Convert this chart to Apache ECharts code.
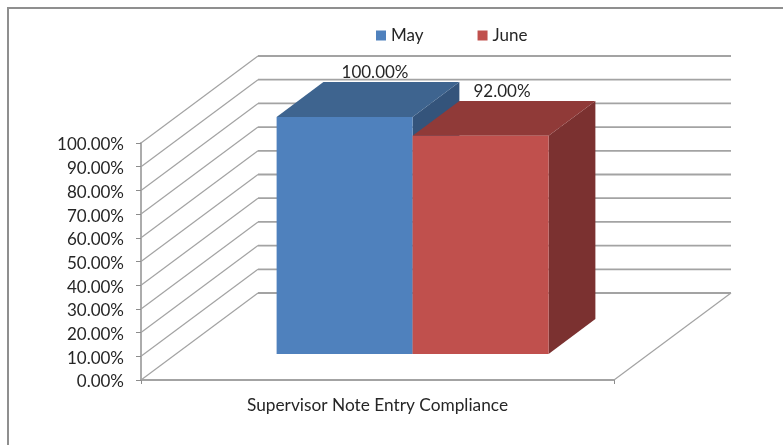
<!DOCTYPE html>
<html>
<head>
<meta charset="utf-8">
<style>html,body{margin:0;padding:0;background:#fff}#main{width:783px;height:445px}</style>
<script src="https://cdn.jsdelivr.net/npm/echarts@6/dist/echarts.min.js"></script>
</head>
<body>
<div id="main"></div>
<script>
var categories = ['Supervisor Note Entry Compliance'];
var seriesNames = ['May', 'June'];
var mayValues = [1.0];
var juneValues = [0.92];
var tickValues = [0, 0.1, 0.2, 0.3, 0.4, 0.5, 0.6, 0.7, 0.8, 0.9, 1.0];

// depth of the fake 3d box, in pixels
var depthX = 117;
var depthY = -87;
var barStart = 0.3;   // bars sit between these two fractions of the depth
var barEnd = 0.7;
var barShare = 0.2875; // width of one bar as a share of the category band

var myChart = echarts.init(document.getElementById('main'));
var font = 'Lato';
var axisColor = '#a3a3a3';

function pct(v) {
    return (v * 100).toFixed(2) + '%';
}

// back wall lines and the floor edge on the right
function renderWall(params, api) {
    var v = api.value(1);
    var p = api.coord([0, v]);
    var band = api.size([1, 0])[0];
    var x0 = p[0] - band / 2;
    var children = [{
        type: 'line',
        shape: { x1: x0, y1: p[1], x2: x0 + depthX, y2: p[1] + depthY },
        style: { stroke: axisColor, lineWidth: 1.2 }
    }, {
        type: 'line',
        shape: { x1: x0 + depthX, y1: p[1] + depthY, x2: x0 + depthX + band, y2: p[1] + depthY },
        style: { stroke: axisColor, lineWidth: 1.8 }
    }];
    if (v === 0) {
        children.push({
            type: 'line',
            shape: { x1: x0 + band, y1: p[1], x2: x0 + band + depthX, y2: p[1] + depthY },
            style: { stroke: axisColor, lineWidth: 1.2 }
        });
    }
    return { type: 'group', children: children };
}

function makeBar(index, front, top, side, labelShift) {
    return function (params, api) {
        var cat = api.value(0);
        var val = api.value(1);
        var topPt = api.coord([cat, val]);
        var basePt = api.coord([cat, 0]);
        var w = api.size([1, 0])[0] * barShare;
        var ox = depthX * barStart;
        var oy = depthY * barStart;
        var dx = depthX * (barEnd - barStart);
        var dy = depthY * (barEnd - barStart);
        var x0 = topPt[0] + ox + (index - 1) * w;
        var x1 = x0 + w;
        var yt = topPt[1] + oy;
        var yb = basePt[1] + oy;
        return {
            type: 'group',
            children: [{
                type: 'polygon',
                shape: { points: [[x1, yt], [x1 + dx, yt + dy], [x1 + dx, yb + dy], [x1, yb]] },
                style: { fill: side }
            }, {
                type: 'polygon',
                shape: { points: [[x0, yt], [x0 + dx, yt + dy], [x1 + dx, yt + dy], [x1, yt]] },
                style: { fill: top }
            }, {
                type: 'rect',
                shape: { x: x0, y: yt, width: w, height: yb - yt },
                style: { fill: front }
            }, {
                type: 'text',
                style: {
                    text: pct(val),
                    x: (x0 + x1 + dx) / 2 + labelShift,
                    y: yt + dy - 1.5,
                    align: 'center',
                    verticalAlign: 'bottom',
                    font: '17px ' + font,
                    fill: '#262626'
                }
            }]
        };
    };
}

option = {
    animation: false,
    backgroundColor: '#fff',
    textStyle: { fontFamily: font },
    legend: {
        left: 371,
        top: 22,
        itemWidth: 10,
        itemHeight: 10,
        itemGap: 54,
        data: [{ name: seriesNames[0], icon: 'rect' }, { name: seriesNames[1], icon: 'rect' }],
        textStyle: { fontFamily: font, fontSize: 17, color: '#262626' }
    },
    grid: { left: 141, right: 169, top: 143, bottom: 65 },
    xAxis: {
        type: 'category',
        data: categories,
        axisLine: { lineStyle: { color: axisColor, width: 1.8 } },
        axisTick: { show: true, length: 4, alignWithLabel: false, lineStyle: { color: '#8c8c8c' } },
        axisLabel: { margin: 17, fontFamily: font, fontSize: 17.3, color: '#262626' }
    },
    yAxis: {
        type: 'value',
        min: 0,
        max: 1,
        interval: 0.1,
        splitLine: { show: false },
        axisLine: { show: true, lineStyle: { color: axisColor, width: 1.8 } },
        axisTick: { show: true, length: 5, lineStyle: { color: '#8c8c8c' } },
        axisLabel: { margin: 17, fontFamily: font, fontSize: 17, color: '#262626', formatter: pct, verticalAlign: 'top', lineHeight: 4 }
    },
    graphic: [{
        type: 'polyline',
        silent: true,
        shape: { points: [[8, 445], [8, 8], [783, 8]] },
        style: { stroke: '#8f8f8f', lineWidth: 2, fill: 'none' }
    }],
    series: [{
        name: 'wall',
        type: 'custom',
        z: 1,
        silent: true,
        renderItem: renderWall,
        encode: { x: 0, y: 1 },
        data: tickValues.map(function (v) { return [0, v]; })
    }, {
        name: seriesNames[0],
        type: 'custom',
        z: 2,
        renderItem: makeBar(0, '#4f81bd', '#3e648f', '#34547b', 7),
        itemStyle: { color: '#4f81bd' },
        encode: { x: 0, y: 1 },
        data: mayValues.map(function (v, i) { return [i, v]; })
    }, {
        name: seriesNames[1],
        type: 'custom',
        z: 3,
        renderItem: makeBar(1, '#c0504d', '#903a38', '#7b3130', -2),
        itemStyle: { color: '#c0504d' },
        encode: { x: 0, y: 1 },
        data: juneValues.map(function (v, i) { return [i, v]; })
    }]
};
myChart.setOption(option);
</script>
</body>
</html>
